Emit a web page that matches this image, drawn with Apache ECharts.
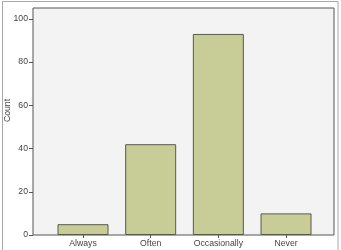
<!DOCTYPE html>
<html><head><meta charset="utf-8">
<script src="https://cdn.jsdelivr.net/npm/echarts@6/dist/echarts.min.js"></script>
<style>html,body{margin:0;padding:0;background:#fff}#c{width:341px;height:250px}</style>
</head><body><div id="c"></div>
<script>
const categories = ["Always", "Often", "Occasionally", "Never"];
const counts = [5, 42, 93, 10];
const yTicks = [0, 20, 40, 60, 80, 100];

const chart = echarts.init(document.getElementById('c'), null, {renderer: 'canvas'});
const font = 'Liberation Sans, Arial, sans-serif';
chart.setOption({
  animation: false,
  graphic: [{
    type: 'rect', silent: true, z: -10,
    shape: {x: 2.5, y: 1.5, width: 335.5, height: 260},
    style: {fill: 'none', stroke: '#a8a8a8', lineWidth: 1}
  }],
  grid: {left: 33, top: 8, right: 7, bottom: 15, show: true, outerBoundsMode: 'none', containLabel: false,
         backgroundColor: '#f3f3f3', borderColor: '#555', borderWidth: 1},
  xAxis: {
    type: 'value', min: -0.739, max: 3.709,
    splitLine: {show: false},
    axisLine: {show: false, onZero: false},
    axisTick: {show: true, customValues: categories.map((c, i) => i), length: 3, lineStyle: {color: '#555'}},
    axisLabel: {customValues: categories.map((c, i) => i), formatter: v => categories[Math.round(v)],
                fontSize: 8.7, color: '#444', fontFamily: font, margin: 4}
  },
  yAxis: {
    type: 'value', min: 0, max: 105,
    name: 'Count', nameLocation: 'middle', nameGap: 21, nameMoveOverlap: false,
    nameTextStyle: {fontSize: 8.7, color: '#444', fontFamily: font, padding: [0, 0, 0, 22]},
    splitLine: {show: false},
    axisLine: {show: false, onZero: false},
    axisTick: {show: true, customValues: yTicks, length: 4, lineStyle: {color: '#555'}},
    axisLabel: {customValues: yTicks, fontSize: 8.7, color: '#444', fontFamily: font, margin: 5}
  },
  series: [{
    type: 'bar', barWidth: 51,
    data: counts.map((v, i) => [i, v]),
    itemStyle: {color: '#c8cc96', borderColor: '#5a5a48', borderWidth: 1}
  }]
});
</script></body></html>
